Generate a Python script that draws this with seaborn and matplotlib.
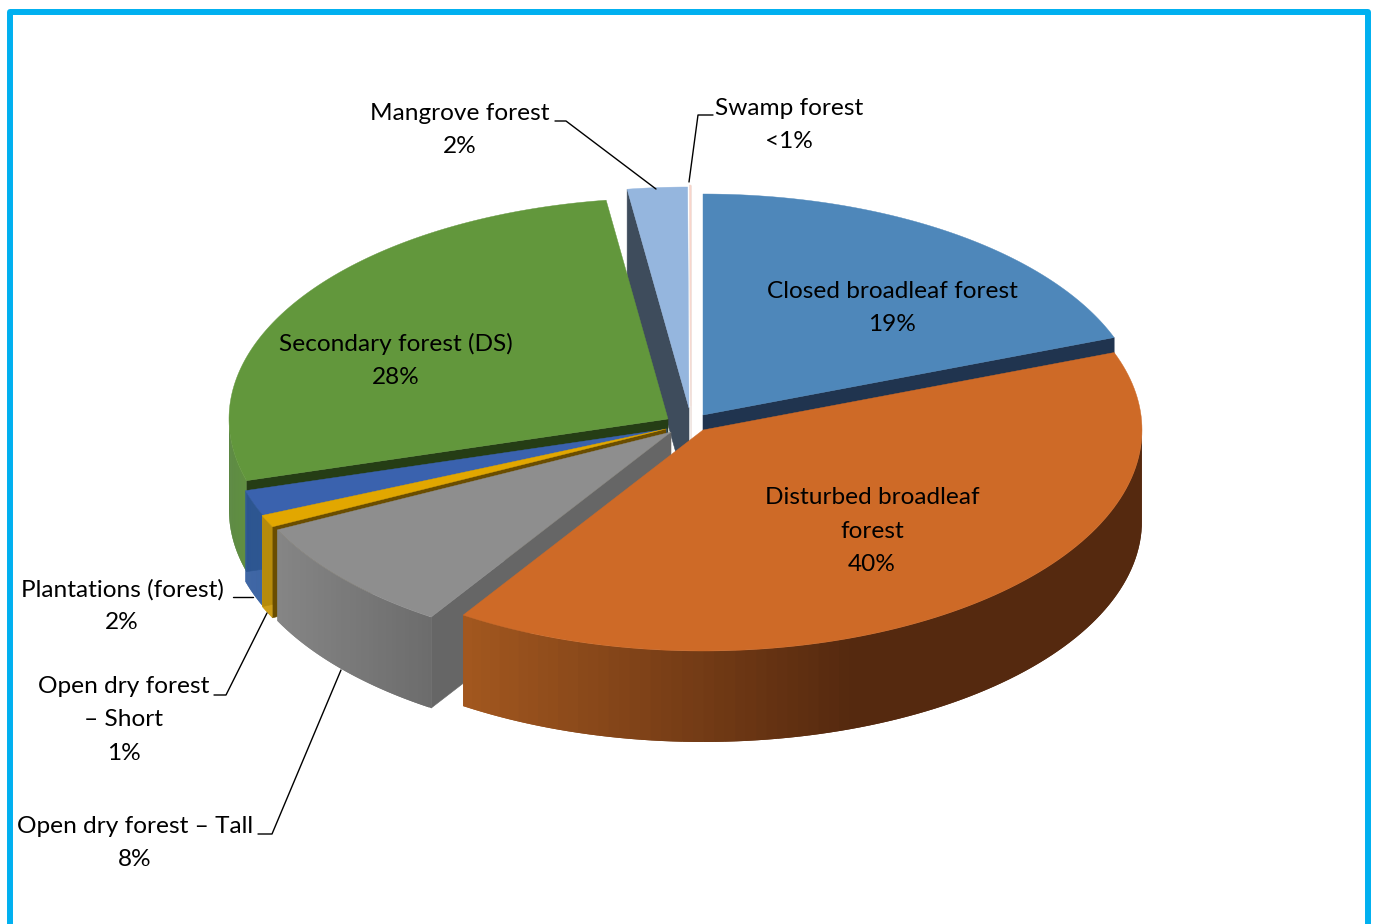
import numpy as np
import matplotlib
matplotlib.use("Agg")
import matplotlib.pyplot as plt
import seaborn as sns

# values (percent of forest area), clockwise from 12 o'clock
categories = ["Closed broadleaf forest", "Disturbed broadleaf forest", "Open dry forest - Tall",
              "Open dry forest - Short", "Plantations (forest)", "Secondary forest (DS)",
              "Mangrove forest", "Swamp forest"]
shares = [19.3, 39.9, 8.5, 0.9, 1.9, 27.25, 2.2, 0.05]
percent_labels = ["19%", "40%", "8%", "1%", "2%", "28%", "2%", "<1%"]

# look of the slices
top_colors = ["#4E87BA", "#CE6A27", "#8E8E8E", "#E2A700", "#3A62AE", "#62973C", "#95B6DE", "#F8D5CB"]
cut_colors = ["#20344F", "#55290F", "#666666", "#6A4D00", "#2B4A85", "#253D15", "#3E4C5C", "#F0E6E2"]
wall_ends = [("#3A6690", "#3A6690"), ("#A2571F", "#55290F"), ("#858585", "#6C6C6C"), ("#C99500", "#C99500"),
             ("#2F5A9E", "#2F5A9E"), ("#4F8033", "#5B8C3A"), ("#7090B8", "#7090B8"), ("#F0D0C8", "#F0D0C8")]
offsets = [(0, -15), (0, 0), (-32, 2), (-37, -1), (-36, -1), (-35, -11), (-14, -22), (-12, -24)]
draw_order = [6, 7, 0, 5, 4, 3, 2, 1]

CX, CY = 703, 430
RX, RY = 439, 221
DEPTH = 91

sns.set_theme(style="white")
plt.rcParams["font.family"] = ["Lato", "DejaVu Sans"]

fig = plt.figure(figsize=(13.76, 9.24), dpi=100)
ax = fig.add_axes([0, 0, 1, 1])
ax.set_xlim(0, 1376)
ax.set_ylim(924, 0)
ax.axis("off")

# frame, open at the bottom
ax.plot([10, 10, 1368, 1368], [924, 12, 12, 924], color="#00B0F0", lw=4.3, solid_joinstyle="round")


def rim(theta, ox, oy):
    rad = np.radians(theta)
    return CX + ox + RX * np.sin(rad), CY + oy - RY * np.cos(rad)


edges = np.concatenate([[0], np.cumsum(shares)]) * 3.6

for i in draw_order:
    start, end = edges[i], edges[i + 1]
    ox, oy = offsets[i]
    ax_, ay_ = CX + ox, CY + oy

    # the two cut faces, only when they look towards the viewer
    for theta, visible in [(start, np.sin(np.radians(start)) < 0), (end, np.sin(np.radians(end)) > 0)]:
        if visible:
            x, y = rim(theta, ox, oy)
            ax.fill([ax_, x, x, ax_], [ay_, y, y + DEPTH, ay_ + DEPTH],
                    color=cut_colors[i], lw=0.4)

    # outer wall, in thin strips so it can carry the gradient
    lo, hi = max(start, 90), min(end, 270)
    if hi > lo:
        steps = np.linspace(lo, hi, 90)
        xs, ys = rim(steps, ox, oy)
        left, right = xs.min(), xs.max()
        shades = sns.blend_palette(wall_ends[i], 60)
        # strips overlap the next one, that hides the seams
        for k in range(len(steps) - 1):
            mid = ((xs[k] + xs[k + 1]) / 2 - left) / max(right - left, 1)
            if i == 1:
                # the orange wall is dark from about x=850 onwards
                mid = min(mid / 0.57, 1)
            n = min(k + 2, len(steps) - 1)
            ax.fill([xs[k], xs[n], xs[n], xs[k]],
                    [ys[k], ys[n], ys[n] + DEPTH, ys[k] + DEPTH],
                    color=shades[int(mid * 59)], lw=0)

    # top of the slice
    steps = np.linspace(start, end, 120)
    xs, ys = rim(steps, ox, oy)
    ax.fill(np.r_[ax_, xs], np.r_[ay_, ys], color=top_colors[i], lw=0.3)

# leader lines
leaders = [([555, 566, 656], [121, 121, 189]),
           ([713, 698, 689], [115, 115, 182]),
           ([233, 253], [597, 597]),
           ([214, 226, 267], [695, 695, 613]),
           ([258, 272, 341], [834, 834, 670])]
for lx, ly in leaders:
    ax.plot(lx, ly, color="black", lw=1.0)

# data labels
label_lines = ["Closed broadleaf forest\n" + percent_labels[0],
               "Disturbed broadleaf\nforest\n" + percent_labels[1],
               "Open dry forest \u2013 Tall\n" + percent_labels[2],
               "Open dry forest\n\u2013 Short\n" + percent_labels[3],
               "Plantations (forest)\n" + percent_labels[4],
               "Secondary forest (DS)\n" + percent_labels[5],
               "Mangrove forest\n" + percent_labels[6],
               "Swamp forest\n" + percent_labels[7]]
label_x = [892, 872, 135, 124, 122, 396, 460, 789]
label_y = [308, 531, 843, 720, 606, 360, 130, 125]
for txt, tx, ty in zip(label_lines, label_x, label_y):
    ax.text(tx, ty, txt, ha="center", va="center", fontsize=17.6, color="black",
            linespacing=1.71, multialignment="center")

fig.savefig("out.png", dpi=100)
